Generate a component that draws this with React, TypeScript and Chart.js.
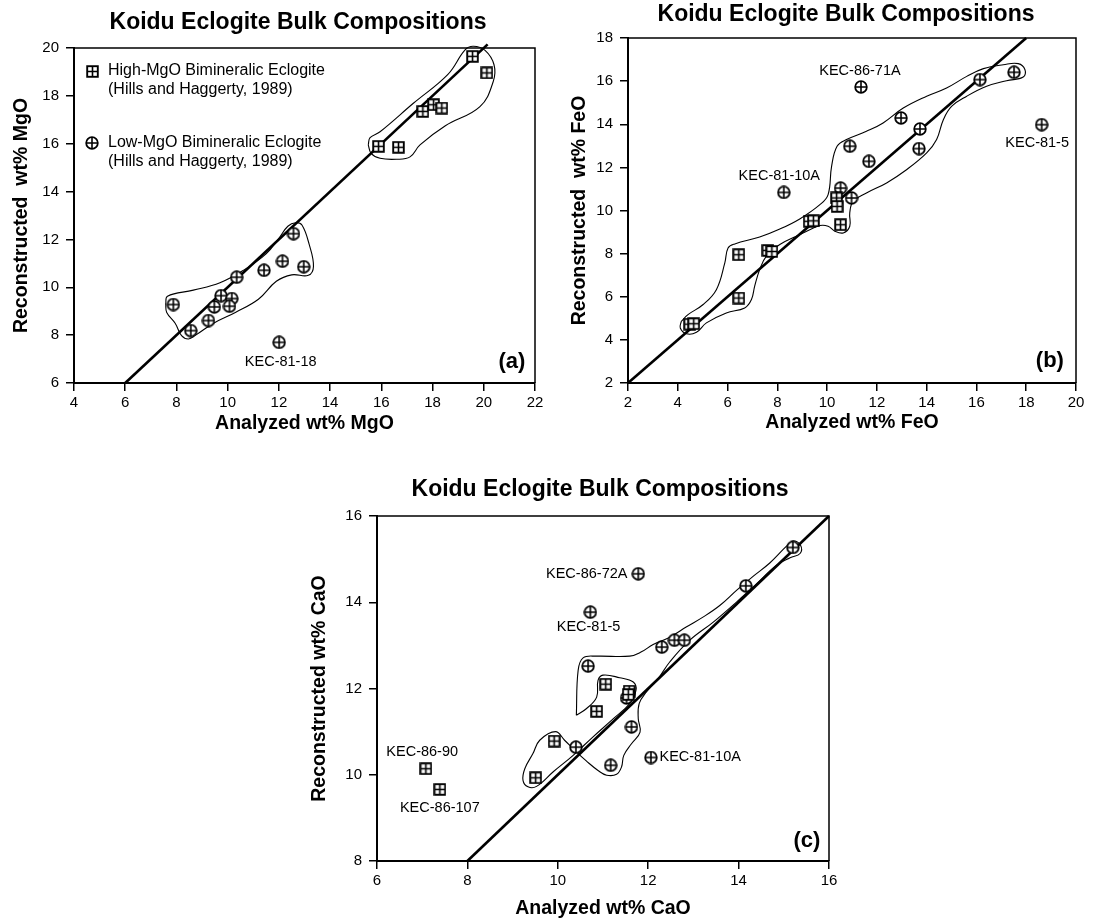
import React, { useEffect, useRef } from 'react';
import { Chart, registerables } from 'chart.js';

Chart.register(...registerables);

type Pair = [number, number];
type Lbl = { text: string; x: number; y: number; align?: CanvasTextAlign };

const FONT = '"Liberation Sans", Arial, Helvetica, sans-serif';
const TITLE = 'Koidu Eclogite Bulk Compositions';

// ---------- Panel (a): MgO ----------
const mgoXTicks = [4, 6, 8, 10, 12, 14, 16, 18, 20, 22];
const mgoYTicks = [6, 8, 10, 12, 14, 16, 18, 20];
const mgoHigh: Pair[] = [
  [19.56, 19.65], [20.12, 18.96], [17.62, 17.35], [18.04, 17.63], [18.36, 17.49], [15.89, 15.89], [16.67, 15.85],
];
const mgoLow: Pair[] = [
  [7.88, 9.28], [8.56, 8.19], [9.25, 8.61], [9.48, 9.18], [9.74, 9.65], [10.16, 9.53], [10.07, 9.21],
  [10.35, 10.42], [11.42, 10.71], [12.14, 11.09], [12.57, 12.24], [12.97, 10.86], [12.01, 7.7],
];
const mgoOutlineHigh: Pair[] = [
  [15.49, 15.95], [15.56, 16.25], [15.95, 16.5], [17.25, 17.69], [18.6, 18.9], [19.27, 19.92], [19.59, 20.07],
  [20.05, 19.9], [20.4, 19.3], [20.37, 18.6], [19.85, 17.55], [18.5, 16.75], [17.51, 15.95], [17.12, 15.45],
  [16.6, 15.35], [15.95, 15.39], [15.6, 15.6], [15.49, 15.95],
];
const mgoOutlineLow: Pair[] = [
  [7.58, 9.3], [7.65, 9.63], [8.66, 9.88], [9.7, 10.19], [10.6, 10.7], [11.5, 11.4], [12.0, 12.05], [12.35, 12.55],
  [12.65, 12.7], [12.9, 12.6], [13.18, 11.8], [13.35, 10.87], [13.15, 10.5], [12.5, 10.52], [11.9, 10.25],
  [11.2, 9.5], [10.3, 8.95], [9.45, 8.5], [8.75, 8.0], [8.47, 7.84], [8.2, 7.98], [7.95, 8.5], [7.62, 8.95], [7.58, 9.3],
];
const mgoOneToOne: Pair[] = [[6, 6], [20.15, 20.15]];
const mgoLabels: Lbl[] = [{ text: 'KEC-81-18', x: 12.07, y: 6.89 }];
const mgoLetter: Lbl = { text: '(a)', x: 21.1, y: 6.88 };
const mgoLegend = [
  { marker: 'box', lines: ['High-MgO Bimineralic Eclogite', '(Hills and Haggerty, 1989)'] },
  { marker: 'circle', lines: ['Low-MgO Bimineralic Eclogite', '(Hills and Haggerty, 1989)'] },
];

// ---------- Panel (b): FeO ----------
const feoXTicks = [2, 4, 6, 8, 10, 12, 14, 16, 18, 20];
const feoYTicks = [2, 4, 6, 8, 10, 12, 14, 16, 18];
const feoHigh: Pair[] = [
  [4.48, 4.73], [4.64, 4.75], [6.45, 7.95], [6.45, 5.94], [7.62, 8.15], [7.78, 8.1], [9.28, 9.5], [9.45, 9.52],
  [10.38, 10.58], [10.4, 10.19], [10.54, 9.34],
];
const feoLow: Pair[] = [
  [11.36, 15.73], [18.62, 13.98], [8.26, 10.84], [16.14, 16.07], [17.51, 16.41], [12.97, 14.29], [13.73, 13.78],
  [13.69, 12.87], [10.91, 12.98], [11.68, 12.28], [10.54, 11.04], [10.98, 10.58],
];
const feoOutline: Pair[] = [
  [4.14, 4.86], [4.41, 5.17], [5.02, 5.64], [5.55, 6.33], [5.89, 7.57], [6.02, 8.26], [6.29, 8.45], [7.29, 8.77],
  [8.1, 9.14], [8.9, 9.61], [9.71, 10.27], [10.04, 10.74], [10.18, 12.05], [10.4, 12.98], [10.78, 13.29],
  [11.58, 13.67], [12.25, 14.06], [13.06, 14.75], [14.0, 15.3], [14.8, 15.68], [15.61, 16.22], [16.28, 16.58],
  [17.08, 16.76], [17.68, 16.81], [17.95, 16.53], [17.88, 16.19], [17.21, 16.02], [16.41, 15.76], [15.61, 15.3],
  [15.0, 14.83], [14.67, 14.21], [14.4, 13.29], [14.0, 12.67], [13.19, 11.89], [12.39, 11.28], [11.58, 10.81],
  [11.05, 10.43], [10.91, 9.89], [10.91, 9.27], [10.65, 8.96], [10.31, 9.04], [10.04, 9.27], [9.71, 9.3],
  [8.9, 8.88], [8.1, 8.42], [7.56, 7.88], [7.29, 7.26], [7.09, 6.49], [6.96, 5.87], [6.69, 5.48], [5.95, 5.25],
  [5.15, 4.79], [4.75, 4.35], [4.35, 4.28], [4.1, 4.55], [4.14, 4.86],
];
const feoOneToOne: Pair[] = [[2, 2], [18, 18]];
const feoLabels: Lbl[] = [
  { text: 'KEC-86-71A', x: 11.32, y: 16.48 },
  { text: 'KEC-81-5', x: 18.44, y: 13.12 },
  { text: 'KEC-81-10A', x: 8.08, y: 11.61 },
];
const feoLetter: Lbl = { text: '(b)', x: 18.95, y: 3.02 };

// ---------- Panel (c): CaO ----------
const caoXTicks = [6, 8, 10, 12, 14, 16];
const caoYTicks = [8, 10, 12, 14, 16];
const caoHigh: Pair[] = [
  [7.08, 10.14], [7.39, 9.66], [9.51, 9.93], [9.92, 10.78], [10.86, 11.47], [11.06, 12.1], [11.58, 11.94], [11.56, 11.86],
];
const caoLow: Pair[] = [
  [11.78, 14.66], [10.72, 13.77], [12.06, 10.4], [15.2, 15.27], [14.16, 14.38], [12.3, 12.96], [12.58, 13.12],
  [12.8, 13.12], [10.67, 12.52], [11.52, 11.78], [11.63, 11.11], [10.4, 10.64], [11.17, 10.22],
];
const caoOutline: Pair[] = [
  [10.41, 11.38], [10.45, 12.42], [10.56, 12.71], [10.86, 12.75], [11.59, 12.75], [11.85, 12.85], [12.11, 13.02],
  [12.48, 13.19], [12.85, 13.43], [13.22, 13.66], [13.59, 13.93], [13.96, 14.28], [14.32, 14.6], [14.69, 14.91],
  [15.06, 15.3], [15.21, 15.42], [15.37, 15.32], [15.36, 15.13], [15.14, 15.03], [14.84, 14.86], [14.4, 14.43],
  [13.96, 14.01], [13.44, 13.54], [12.92, 13.12], [12.48, 12.62], [12.22, 12.23], [11.96, 11.92], [11.8, 11.65],
  [11.78, 11.3], [11.82, 10.99], [11.63, 10.72], [11.46, 10.45], [11.41, 10.18], [11.3, 10.01], [11.08, 9.99],
  [10.89, 10.1], [10.63, 10.32], [10.41, 10.53], [10.15, 10.8], [9.95, 11.0], [9.6, 10.8], [9.45, 10.49],
  [9.27, 10.14], [9.23, 9.87], [9.34, 9.72], [9.53, 9.73], [9.9, 10.07], [10.34, 10.45], [10.78, 10.88],
  [11.23, 11.3], [11.59, 11.65], [11.73, 11.96], [11.67, 12.15], [11.37, 12.25], [11.0, 12.31], [10.89, 12.19],
  [10.86, 11.8], [10.63, 11.53], [10.41, 11.38],
];
const caoOneToOne: Pair[] = [[8, 8], [16, 16]];
const caoLabels: Lbl[] = [
  { text: 'KEC-86-72A', x: 10.64, y: 14.66 },
  { text: 'KEC-81-5', x: 10.68, y: 13.43 },
  { text: 'KEC-86-90', x: 7.0, y: 10.53 },
  { text: 'KEC-86-107', x: 7.39, y: 9.22 },
  { text: 'KEC-81-10A', x: 13.15, y: 10.42 },
];
const caoLetter: Lbl = { text: '(c)', x: 15.51, y: 8.46 };

// ---------- layout specs ----------
interface PanelSpec {
  left: number; top: number; width: number; height: number;
  yAxisWidth: number; xAxisHeight: number; padRight: number;
  titlePad: { top: number; bottom: number };
  yTitlePad: number; xTitlePad: number;
  xTitle: string; yTitle: string;
  xTicks: number[]; yTicks: number[];
  high: Pair[]; low: Pair[]; outlines: Pair[][]; diag: Pair[];
  labels: Lbl[]; letter: Lbl; legend?: typeof mgoLegend;
}

const panels: PanelSpec[] = [
  {
    left: 0, top: 0, width: 596, height: 445, yAxisWidth: 74, xAxisHeight: 62, padRight: 61,
    titlePad: { top: 8.7, bottom: 11.7 }, yTitlePad: 10.3, xTitlePad: 9.3,
    xTitle: 'Analyzed wt% MgO', yTitle: 'Reconstructed  wt% MgO',
    xTicks: mgoXTicks, yTicks: mgoYTicks, high: mgoHigh, low: mgoLow,
    outlines: [mgoOutlineHigh, mgoOutlineLow], diag: mgoOneToOne,
    labels: mgoLabels, letter: mgoLetter, legend: mgoLegend,
  },
  {
    left: 560, top: 0, width: 572, height: 445, yAxisWidth: 68, xAxisHeight: 62, padRight: 56,
    titlePad: { top: 1.2, bottom: 9.2 }, yTitlePad: 8.3, xTitlePad: 10.3,
    xTitle: 'Analyzed wt% FeO', yTitle: 'Reconstructed  wt% FeO',
    xTicks: feoXTicks, yTicks: feoYTicks, high: feoHigh, low: feoLow,
    outlines: [feoOutline], diag: feoOneToOne,
    labels: feoLabels, letter: feoLetter,
  },
  {
    left: 300, top: 460, width: 600, height: 462, yAxisWidth: 77, xAxisHeight: 61, padRight: 71,
    titlePad: { top: 16.2, bottom: 12.2 }, yTitlePad: 8.3, xTitlePad: 1.3,
    xTitle: 'Analyzed wt% CaO', yTitle: 'Reconstructed wt% CaO',
    xTicks: caoXTicks, yTicks: caoYTicks, high: caoHigh, low: caoLow,
    outlines: [caoOutline], diag: caoOneToOne,
    labels: caoLabels, letter: caoLetter,
  },
];

// ---------- marker images ----------
let boxImg: HTMLCanvasElement | null = null;
let circImg: HTMLCanvasElement | null = null;
function getBox(): HTMLCanvasElement {
  if (boxImg) return boxImg;
  const c = document.createElement('canvas');
  c.width = 13; c.height = 13;
  const g = c.getContext('2d')!;
  g.fillStyle = '#fff'; g.fillRect(1, 1, 11, 11);
  g.strokeStyle = '#000'; g.lineWidth = 1.9; g.strokeRect(1.2, 1.2, 10.6, 10.6);
  g.lineWidth = 1.6;
  g.beginPath(); g.moveTo(6.5, 1); g.lineTo(6.5, 12); g.moveTo(1, 6.5); g.lineTo(12, 6.5); g.stroke();
  boxImg = c;
  return c;
}
function getCirc(): HTMLCanvasElement {
  if (circImg) return circImg;
  const c = document.createElement('canvas');
  c.width = 14; c.height = 14;
  const g = c.getContext('2d')!;
  const m = 7, r = 5.8;
  g.fillStyle = '#fff'; g.beginPath(); g.arc(m, m, r, 0, Math.PI * 2); g.fill();
  g.strokeStyle = '#000'; g.lineWidth = 1.8; g.stroke();
  g.lineWidth = 1.6;
  g.beginPath(); g.moveTo(m, m - r); g.lineTo(m, m + r); g.moveTo(m - r, m); g.lineTo(m + r, m); g.stroke();
  circImg = c;
  return c;
}

const toPts = (a: Pair[]) => a.map(([x, y]) => ({ x, y }));

function annotPlugin(spec: PanelSpec) {
  return {
    id: 'annot',
    afterDraw(chart: any) {
      const { ctx, chartArea: a } = chart;
      const xs = chart.scales.x, ys = chart.scales.y;
      ctx.save();
      ctx.strokeStyle = '#000';
      ctx.lineWidth = 1.5;
      ctx.beginPath();
      ctx.moveTo(a.left - 1, a.top);
      ctx.lineTo(a.right, a.top);
      ctx.lineTo(a.right, a.bottom);
      ctx.stroke();
      ctx.fillStyle = '#000';
      ctx.textBaseline = 'middle';
      ctx.font = `14.5px ${FONT}`;
      for (const l of spec.labels) {
        ctx.textAlign = l.align ?? 'center';
        ctx.fillText(l.text, xs.getPixelForValue(l.x), ys.getPixelForValue(l.y));
      }
      ctx.font = `bold 22px ${FONT}`;
      ctx.textAlign = 'center';
      ctx.fillText(spec.letter.text, xs.getPixelForValue(spec.letter.x), ys.getPixelForValue(spec.letter.y));
      if (spec.legend) {
        ctx.font = `16px ${FONT}`;
        ctx.textAlign = 'left';
        spec.legend.forEach((item, i) => {
          const y0 = a.top + 23 + i * 72;
          const img = item.marker === 'box' ? getBox() : getCirc();
          ctx.drawImage(img, Math.round(a.left + 18 - img.width / 2), Math.round(y0 - img.height / 2));
          item.lines.forEach((t, j) => ctx.fillText(t, a.left + 34, y0 + j * 19));
        });
      }
      ctx.restore();
    },
  };
}

function buildConfig(spec: PanelSpec): any {
  const xt = spec.xTicks, yt = spec.yTicks;
  const outlineSets = spec.outlines.map((o) => ({
    data: toPts(o), showLine: true, borderColor: '#000', borderWidth: 1.1, pointRadius: 0,
    tension: 0.4, fill: false, clip: false,
  }));
  return {
    type: 'scatter',
    data: {
      datasets: [
        { label: 'High-MgO', data: toPts(spec.high), pointStyle: getBox(), pointRadius: 6, showLine: false },
        { label: 'Low-MgO', data: toPts(spec.low), pointStyle: getCirc(), pointRadius: 6, showLine: false },
        ...outlineSets,
        { label: '1:1', data: toPts(spec.diag), showLine: true, borderColor: '#000', borderWidth: 2.6, pointRadius: 0, tension: 0, clip: false },
      ],
    },
    options: {
      responsive: false,
      animation: false,
      devicePixelRatio: 1,
      events: [],
      layout: { padding: 0 },
      plugins: {
        legend: { display: false },
        tooltip: { enabled: false },
        title: {
          display: true, text: TITLE, color: '#000',
          font: { family: FONT, size: 23, weight: 'bold' }, padding: spec.titlePad,
        },
      },
      scales: {
        x: {
          type: 'linear', position: 'bottom', min: xt[0], max: xt[xt.length - 1],
          afterBuildTicks: (s: any) => { s.ticks = xt.map((v) => ({ value: v })); },
          afterFit: (s: any) => { s.height = spec.xAxisHeight; },
          grid: { drawOnChartArea: false, drawTicks: true, tickLength: 8, color: '#000', lineWidth: 1.5 },
          border: { display: true, color: '#000', width: 2 },
          ticks: { color: '#000', font: { family: FONT, size: 15 }, padding: 3, maxRotation: 0, autoSkip: false },
          title: {
            display: true, text: spec.xTitle, color: '#000',
            font: { family: FONT, size: 19.5, weight: 'bold' }, padding: { top: 0, bottom: spec.xTitlePad },
          },
        },
        y: {
          type: 'linear', position: 'left', min: yt[0], max: yt[yt.length - 1],
          afterBuildTicks: (s: any) => { s.ticks = yt.map((v) => ({ value: v })); },
          afterFit: (s: any) => { s.width = spec.yAxisWidth; },
          grid: { drawOnChartArea: false, drawTicks: true, tickLength: 8, color: '#000', lineWidth: 1.5 },
          border: { display: true, color: '#000', width: 2 },
          ticks: { color: '#000', font: { family: FONT, size: 15 }, padding: 7, autoSkip: false },
          title: {
            display: true, text: spec.yTitle, color: '#000',
            font: { family: FONT, size: 19.5, weight: 'bold' }, padding: { top: spec.yTitlePad, bottom: 0 },
          },
        },
        pad: {
          type: 'linear', position: 'right', display: true,
          grid: { display: false }, border: { display: false }, ticks: { display: false },
          afterFit: (s: any) => { s.width = spec.padRight; },
        },
      },
    },
    plugins: [annotPlugin(spec)],
  };
}

function Panel({ spec }: { spec: PanelSpec }) {
  const ref = useRef<HTMLCanvasElement>(null);
  useEffect(() => {
    if (!ref.current) return;
    const chart = new Chart(ref.current, buildConfig(spec));
    return () => chart.destroy();
  }, [spec]);
  return (
    <canvas
      ref={ref}
      width={spec.width}
      height={spec.height}
      style={{ position: 'absolute', left: spec.left, top: spec.top, width: spec.width, height: spec.height }}
    />
  );
}

export default function App() {
  Chart.defaults.font.family = FONT;
  Chart.defaults.color = '#000';
  return (
    <div style={{ position: 'absolute', left: 0, top: 0, width: 1103, height: 922, overflow: 'hidden', background: '#fff' }}>
      {panels.map((p, i) => (
        <Panel key={i} spec={p} />
      ))}
    </div>
  );
}
